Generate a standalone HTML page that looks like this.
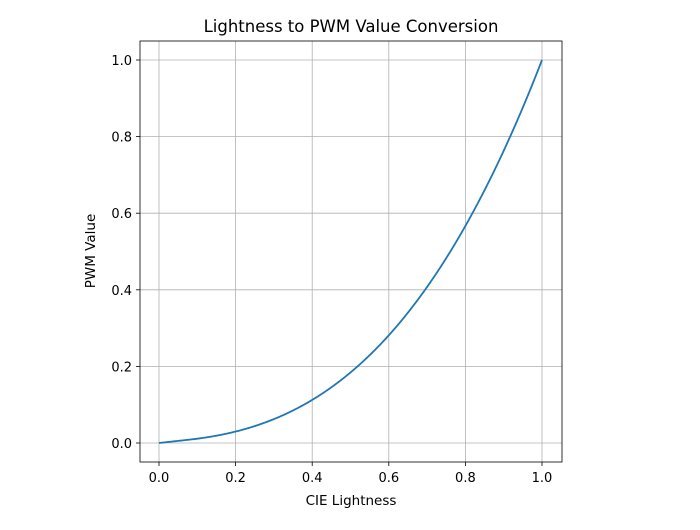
<!DOCTYPE html>
<html><head><style>
body{margin:0;background:#fff;}
text{font-family:"DejaVu Sans","Liberation Sans",sans-serif;fill:#000;}
</style></head><body>
<svg width="700" height="525" xmlns="http://www.w3.org/2000/svg">
<g id="grid" stroke="#b0b0b0" stroke-width="0.8"></g>
<path id="curve" fill="none" stroke="#1f77b4" stroke-width="1.8"/>
<rect x="140" y="41" width="422" height="421" fill="none" stroke="#000" stroke-width="0.8"/>
<g id="ticks" stroke="#000" stroke-width="0.8"></g>
<g id="labels" font-size="13"></g>
<text x="351" y="32" font-size="16.5" text-anchor="middle">Lightness to PWM Value Conversion</text>
<text x="351" y="505" font-size="13.5" text-anchor="middle">CIE Lightness</text>
<text transform="translate(95,251) rotate(-90)" font-size="13.5" text-anchor="middle">PWM Value</text>
</svg>
<script>
var X=v=>159+v*383, Y=v=>443-v*383;
var g=document.getElementById('grid'),t=document.getElementById('ticks'),l=document.getElementById('labels');
var ns="http://www.w3.org/2000/svg";
function el(p,n,a,txt){var e=document.createElementNS(ns,n);for(var k in a)e.setAttribute(k,a[k]);if(txt)e.textContent=txt;p.appendChild(e);}
for(var i=0;i<=5;i++){var v=i*0.2,s=v.toFixed(1);
el(g,'line',{x1:X(v),x2:X(v),y1:41,y2:462});
el(g,'line',{x1:140,x2:562,y1:Y(v),y2:Y(v)});
el(t,'line',{x1:X(v),x2:X(v),y1:462,y2:466});
el(t,'line',{x1:136,x2:140,y1:Y(v),y2:Y(v)});
el(l,'text',{x:X(v),y:482,'text-anchor':'middle'},s);
el(l,'text',{x:132,y:Y(v)+5,'text-anchor':'end'},s);}
var d='';for(var i=0;i<=400;i++){var L=i/400,y=L<=0.08?L/9.033:Math.pow((L+0.16)/1.16,3);d+=(i?'L':'M')+X(L).toFixed(2)+','+Y(y).toFixed(2);}
document.getElementById('curve').setAttribute('d',d);
</script>
</body></html>
